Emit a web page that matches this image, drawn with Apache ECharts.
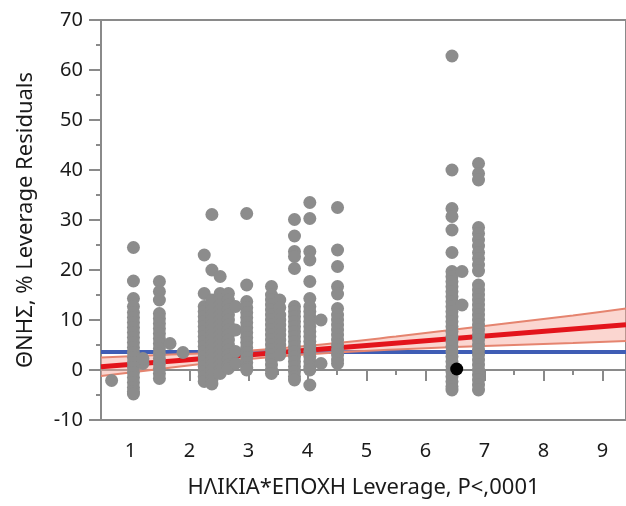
<!DOCTYPE html>
<html>
<head>
<meta charset="utf-8">
<script src="https://cdn.jsdelivr.net/npm/echarts@6/dist/echarts.min.js"></script>
<style>html,body{margin:0;padding:0;background:#fff;}#c{width:626px;height:506px;}</style>
</head>
<body>
<div id="c"></div>
<script>
// ---- data ----
const xName = 'ΗΛΙΚΙΑ*ΕΠΟΧΗ Leverage, P<,0001';
const yName = 'ΘΝΗΣ, % Leverage Residuals';
const xTicks = [1, 2, 3, 4, 5, 6, 7, 8, 9];
const yTicks = [-10, 0, 10, 20, 30, 40, 50, 60, 70];

// x position of each column of residual points
const groupX = [0.68, 1.05, 1.21, 1.49, 1.67, 1.89, 2.25, 2.38, 2.52, 2.66, 2.78, 2.97,
                3.39, 3.53, 3.78, 4.04, 4.23, 4.51, 6.45, 6.62, 6.90];
// residual values in each column
const groupY = [
  [-2.1],
  [24.5, 17.8, 14.3, 12.7, 11.5, 10.5, 9.5, 8.5, 7.5, 6.5, 5.5, 4.5, 3.5, 2.5, 1.5, 0.5, -0.5, -1.5, -2.5, -3.5, -4.3, -4.8],
  [1.3, 2.3],
  [17.7, 15.7, 14, 11.3, 10.3, 9.3, 8.3, 7.3, 6.3, 5.3, 4.3, 3.3, 2.3, 1.3, 0.3, -0.7, -1.7],
  [5.3],
  [3.5],
  [23.0, 15.3, 12.7, 11.7, 10.7, 9.7, 8.7, 7.7, 6.7, 5.7, 4.7, 3.7, 2.7, 1.7, 0.7, -0.3, -1.3, -2.3],
  [31.1, 20.0, 14, 13, 12, 11, 10, 9, 8, 7, 6, 5, 4, 3, 2, 1, 0, -1, -2, -2.8],
  [18.7, 15.3, 14, 13, 12, 11, 10, 9, 8, 7, 6, 5, 4, 3, 2, 1, 0, -0.7],
  [15.3, 14, 13, 12, 11, 10, 9, 8, 7, 6, 5, 4, 3, 2, 1, 0.3],
  [12.7, 8, 3.7, 1.3],
  [31.3, 17, 13.7, 12.5, 11.5, 10.5, 9.5, 8.5, 7.5, 6.5, 5.5, 4.5, 3.5, 2.5, 1.5, 0.5, 0],
  [16.7, 15, 14, 13, 12, 11, 10, 9, 8, 7, 6, 5, 4, 3, 2, 1, 0, -0.7],
  [14, 12.5, 11, 10, 9, 8, 7, 6, 5, 4, 3],
  [30.1, 26.8, 23.7, 22.7, 20.3, 12.7, 11.7, 10.7, 9.7, 8.7, 7.7, 6.7, 5.7, 4.7, 3.7, 2.7, 1.7, 0.7, -0.3, -1.3, -2],
  [33.5, 30.3, 23.7, 22, 17.7, 14.3, 12.7, 11.7, 10.7, 9.7, 8.7, 7.7, 6.7, 5.7, 4.7, 3.7, 2.7, 1.7, 0.7, 0, -3],
  [10, 1.3],
  [32.5, 24, 20.7, 16.7, 15.2, 12.3, 11, 10, 9, 8, 7, 6, 5, 4, 3, 2, 1.3],
  [62.8, 40, 32.3, 30.7, 28, 23.5, 19.7, 18.7, 17.7, 16.7, 15.7, 14.7, 13.7, 12.7, 11.7, 10.7, 9.7, 8.7, 7.7,
   6.7, 5.7, 4.7, 3.7, 2.7, 1.7, 0.7, -0.3, -1.3, -2.3, -3.3, -4],
  [19.7, 13],
  [41.3, 39.3, 38, 28.5, 27.3, 26, 24.8, 23.5, 22.3, 21, 19.8, 17, 16, 15, 14, 13, 12, 11, 10, 9, 8, 7,
   6, 5, 4, 3, 2, 1, 0, -1, -2, -3, -4]
];
const highlightPoint = [6.53, 0.2];

// fit line, mean line, confidence band
const lineX = [0.5, 9.4];
const fitY = [0.67, 9.04];
const meanY = [3.6, 3.6];
const bandX = [0.5, 1.5, 2.5, 3.5, 4.5, 5.5, 6.5, 7.5, 8.5, 9.4];
const bandUpper = [2.5, 3.0, 3.5, 4.3, 5.4, 6.7, 8.1, 9.5, 10.9, 12.3];
const bandLower = [-1.2, 0.2, 1.6, 2.7, 3.5, 4.1, 4.6, 5.0, 5.4, 5.8];

// ---- build ----
const points = [];
groupX.forEach((x, i) => groupY[i].forEach(y => points.push([x, y])));
const zip = (a, b) => a.map((v, i) => [v, b[i]]);

const FONT = '"Noto Sans", "Open Sans", sans-serif';
const AX = '#8a8a8a';

const chart = echarts.init(document.getElementById('c'), null, {renderer: 'canvas'});
chart.setOption({
  animation: false,
  backgroundColor: '#fff',
  grid: {left: 101, right: -2, top: 20, bottom: 86, show: true, borderColor: AX, borderWidth: 2, backgroundColor: 'transparent'},
  xAxis: {
    type: 'value', min: 0.5, max: 9.4, splitNumber: 9,
    name: xName, nameLocation: 'middle', nameGap: 57,
    nameTextStyle: {fontFamily: FONT, fontSize: 22, color: '#1a1a1a'},
    axisLine: {show: true, lineStyle: {color: AX, width: 2}},
    axisTick: {show: true, length: 11, lineStyle: {color: AX, width: 2}},
    minorTick: {show: true, splitNumber: 2, length: 5, lineStyle: {color: AX, width: 2}},
    splitLine: {show: false},
    axisLabel: {
      fontFamily: FONT, fontSize: 20, color: '#1a1a1a', margin: 21,
      showMinLabel: false, showMaxLabel: false,
      formatter: v => xTicks.indexOf(v) >= 0 ? String(v) : ''
    }
  },
  yAxis: {
    type: 'value', min: yTicks[0], max: yTicks[yTicks.length - 1], interval: 10,
    name: yName, nameLocation: 'middle', nameGap: 64,
    nameTextStyle: {fontFamily: FONT, fontSize: 22, color: '#1a1a1a'},
    axisLine: {show: true, lineStyle: {color: AX, width: 2}},
    axisTick: {show: true, length: 12, lineStyle: {color: AX, width: 2}},
    minorTick: {show: true, splitNumber: 2, length: 5, lineStyle: {color: AX, width: 2}},
    splitLine: {show: false},
    axisLabel: {fontFamily: FONT, fontSize: 20, color: '#1a1a1a', margin: 18}
  },
  series: [
    {type: 'line', z: 1, data: zip(lineX, meanY), symbol: 'none', lineStyle: {color: '#3f5db5', width: 4}, silent: true},
    {
      type: 'custom', z: 2, data: [[0, 0]], silent: true, clip: true,
      renderItem: (params, api) => {
        const pts = [];
        bandX.forEach((x, i) => pts.push(api.coord([x, bandUpper[i]])));
        for (let i = bandX.length - 1; i >= 0; i--) pts.push(api.coord([bandX[i], bandLower[i]]));
        return {type: 'polygon', shape: {points: pts}, style: {fill: 'rgba(246,165,150,0.45)'}};
      }
    },
    {type: 'line', z: 3, data: zip(bandX, bandUpper), smooth: true, symbol: 'none', lineStyle: {color: '#e5846f', width: 2}, silent: true},
    {type: 'line', z: 3, data: zip(bandX, bandLower), smooth: true, symbol: 'none', lineStyle: {color: '#e5846f', width: 2}, silent: true},
    {type: 'line', z: 4, data: zip(lineX, fitY), symbol: 'none', lineStyle: {color: '#e3141b', width: 5}, silent: true},
    {type: 'scatter', z: 10, data: points, symbol: 'circle', symbolSize: 13, itemStyle: {color: '#8c8c8c', opacity: 1}},
    {type: 'scatter', z: 11, data: [highlightPoint], symbol: 'circle', symbolSize: 13, itemStyle: {color: '#000', opacity: 1}}
  ]
});
</script>
</body>
</html>
